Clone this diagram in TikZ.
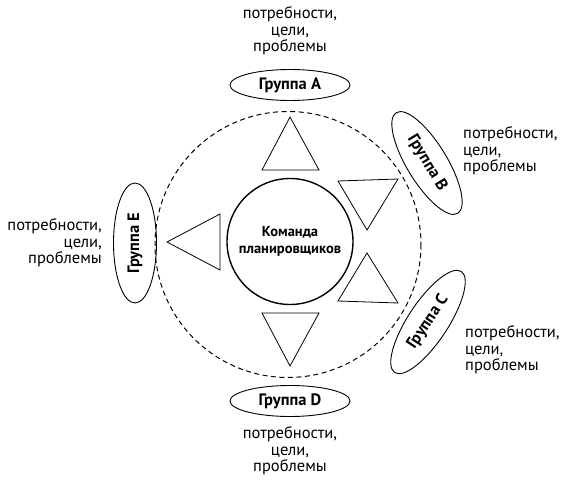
\documentclass[tikz,border=0pt]{standalone}
\usepackage{fontspec}
\setmainfont{PT Sans}
\usetikzlibrary{shapes.geometric}
\begin{document}
\begin{tikzpicture}[x=1pt,y=-1pt,
  grp/.style={draw,ellipse,line width=0.9pt,inner sep=0pt,minimum width=120pt,minimum height=31pt,font=\fontsize{16.5}{17}\selectfont\bfseries},
  lbl/.style={inner sep=0pt,font=\fontsize{16.5}{16.5}\selectfont},
  tri/.style={draw,line width=0.8pt,line join=miter}]
\useasboundingbox (0,0) rectangle (566,481);
% dashed outer circle
\draw[line width=1pt,dash pattern=on 5pt off 3.5pt] (288,244.5) circle[radius=133];
% inner circle
\node[draw,circle,line width=1.4pt,minimum size=126pt,inner sep=0pt,align=center,font=\fontsize{14.5}{17}\selectfont\bfseries] (team) at (290,241.5) {Команда\\планировщиков};
% triangles
\draw[tri] (290,117) -- (319,170) -- (262,170) -- cycle;
\draw[tri] (262,313) -- (319,313) -- (290,366) -- cycle;
\draw[tri] (167,242) -- (220,214) -- (220,270) -- cycle;
\draw[tri] (338,181) -- (398,179) -- (367,230) -- cycle;
\draw[tri] (367,253) -- (398,303) -- (338,301) -- cycle;
% groups
\node[grp] (A) at (290,85) {Группа A};
\node[grp] (D) at (290,401) {Группа D};
\node[grp,rotate=90,minimum width=120pt,minimum height=43pt] (E) at (135,243) {Группа E};
\node[grp,rotate=-58.6,minimum width=118pt,minimum height=40pt] (B) at (427,163) {Группа B};
\node[grp,rotate=56.6,minimum width=121pt,minimum height=40pt] (C) at (428,322) {Группа C};
% labels
\node[lbl,align=center] (la) at (290,31) {потребности,\\цели,\\проблемы};
\node[lbl,align=center] (ld) at (290,451) {потребности,\\цели,\\проблемы};
\node[lbl,align=right,anchor=east] (le) at (102,243) {потребности,\\цели,\\проблемы};
\node[lbl,align=left,anchor=west] (lb) at (463,151) {потребности,\\цели,\\проблемы};
\node[lbl,align=left,anchor=west] (lc) at (465,350) {потребности,\\цели,\\проблемы};
\end{tikzpicture}
\end{document}
